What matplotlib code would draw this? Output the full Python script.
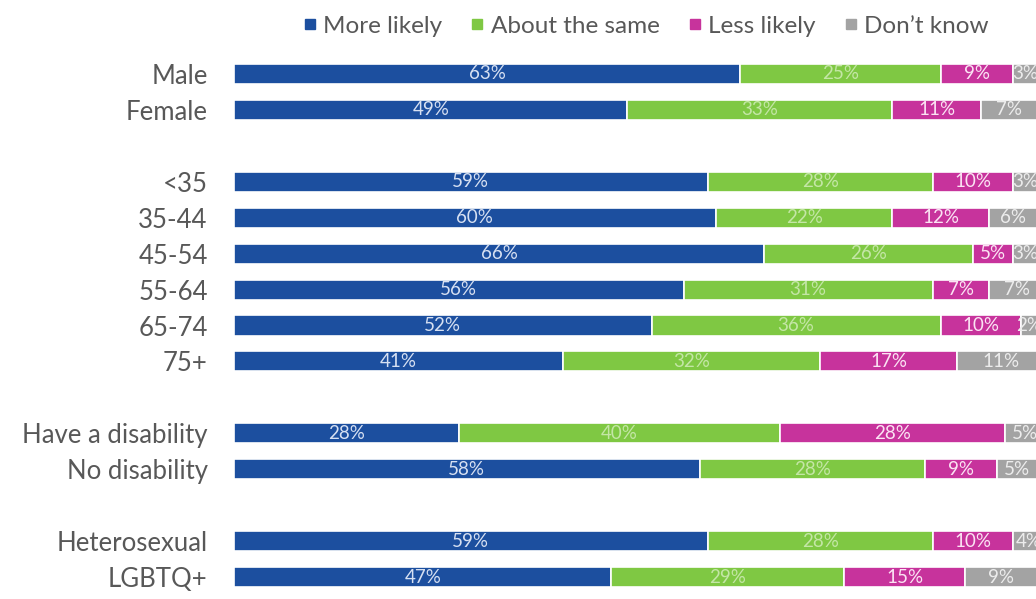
import matplotlib
matplotlib.use("Agg")
import matplotlib.pyplot as plt
from matplotlib.lines import Line2D

categories = ["Male", "Female", "<35", "35-44", "45-54", "55-64", "65-74", "75+",
              "Have a disability", "No disability", "Heterosexual", "LGBTQ+"]
row_pos = [0, 1, 3, 4, 5, 6, 7, 8, 10, 11, 13, 14]
more_likely = [63, 49, 59, 60, 66, 56, 52, 41, 28, 58, 59, 47]
about_same = [25, 33, 28, 22, 26, 31, 36, 32, 40, 28, 28, 29]
less_likely = [9, 11, 10, 12, 5, 7, 10, 17, 28, 9, 10, 15]
dont_know = [3, 7, 3, 6, 3, 7, 2, 11, 5, 5, 4, 9]

series = [
    ("More likely", more_likely, "#1c4f9f", "#d6e0f2"),
    ("About the same", about_same, "#7fc843", "#c4e6a6"),
    ("Less likely", less_likely, "#c7339c", "#fbe3f3"),
    ("Don't know", dont_know, "#a3a3a3", "#ececec"),
]

plt.rcParams['font.family'] = ['Lato', 'DejaVu Sans']

fig = plt.figure(figsize=(10.36, 5.99), dpi=100)
ax = fig.add_axes([234/1036, 4/599, 803/1036, 539/599])

left = [0]*len(categories)
for name, vals, col, tcol in series:
    ax.barh(row_pos, vals, left=left, height=0.56, color=col,
            edgecolor="white", linewidth=1.2, label=name)
    for y, l, v in zip(row_pos, left, vals):
        ax.text(l + v/2, y, f"{v}%", ha="center", va="center",
                fontsize=13.5, color=tcol, clip_on=False)
    left = [a + b for a, b in zip(left, vals)]

ax.set_xlim(0, 100)
ax.set_ylim(14.5, -0.5)
ax.set_yticks(row_pos)
ax.set_yticklabels(categories, fontsize=18.5, color="#585858")
ax.tick_params(axis="y", length=0, pad=19)
ax.set_xticks([])
for s in ax.spines.values():
    s.set_visible(False)

handles = [Line2D([0], [0], marker="s", linestyle="none", markersize=7,
                  markerfacecolor=c, markeredgecolor=c) for _, _, c, _ in series]
labels = ["More likely", "About the same", "Less likely", "Don\u2019t know"]
fig.legend(handles, labels, loc="center", bbox_to_anchor=(645/1036, 1 - 26/599),
           ncol=4, frameon=False, fontsize=17.5, handletextpad=0.2,
           columnspacing=1.1, labelcolor="#585858", handlelength=0.7)

fig.savefig("out.png", dpi=100, facecolor="white")
